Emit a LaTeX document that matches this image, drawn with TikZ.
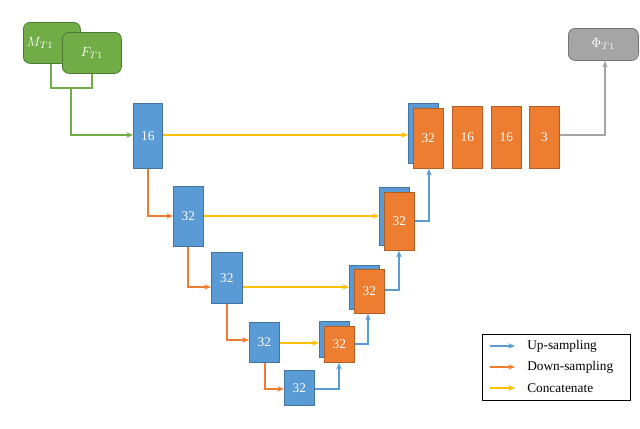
\documentclass[tikz,border=0pt]{standalone}
\usepackage{fontspec}
\setmainfont{Liberation Serif}
\usetikzlibrary{arrows.meta}
\definecolor{cb}{HTML}{5B9BD5}\definecolor{co}{HTML}{ED7D31}
\definecolor{cy}{HTML}{FFC000}\definecolor{cg}{HTML}{70AD47}\definecolor{cgr}{HTML}{A5A5A5}
\begin{document}
\begin{tikzpicture}[x=0.75pt,y=-0.75pt,
 blk/.style={draw=#1!75!black,fill=#1,text=white,font=\fontsize{10}{10}\selectfont,inner sep=0,line width=0.6pt},
 rbox/.style={draw=#1!70!black,fill=#1,text=white,rounded corners=5pt,inner sep=0,line width=0.6pt},
 ar/.style={draw=#1,line width=0.8pt,-{Stealth[length=5pt,width=4pt]}},
 ln/.style={draw=#1,line width=0.8pt}]
\useasboundingbox (0,0) rectangle (640,429);
% inputs
\node[rbox=cg,minimum width=57*0.75pt,minimum height=41*0.75pt,anchor=north west] (M) at (23,22) {};
\node at (40,43) {\textcolor{white}{$M_{T1}$}};
\node[rbox=cg,minimum width=59*0.75pt,minimum height=41*0.75pt,anchor=north west] (F) at (62,32) {$F_{T1}$};
\node[rbox=cgr,minimum width=70*0.75pt,minimum height=32*0.75pt,anchor=north west] (P) at (568,28) {$\Phi_{T1}$};
% encoder
\newcommand{\bx}[6]{\node[blk=#2,minimum width=#5*0.75pt,minimum height=#6*0.75pt,anchor=north west] (#1) at (#3,#4) {};}
\bx{e1}{cb}{133}{103}{29}{65}\node[white] at (e1) {16};
\bx{e2}{cb}{173}{186}{30}{60}\node[white] at (e2) {32};
\bx{e3}{cb}{211}{252}{31}{51}\node[white] at (e3) {32};
\bx{e4}{cb}{249}{322}{30}{40}\node[white] at (e4) {32};
\bx{e5}{cb}{284}{370}{30}{35}\node[white] at (e5) {32};
% decoder stacks
\bx{b4}{cb}{319}{321}{30}{36}\bx{d4}{co}{324}{326}{30}{36}\node[white] at (d4) {32};
\bx{b3}{cb}{349}{265}{30}{44}\bx{d3}{co}{354}{269}{30}{44}\node[white] at (d3) {32};
\bx{b2}{cb}{379}{187}{30}{58}\bx{d2}{co}{384}{192}{30}{58}\node[white] at (d2) {32};
\bx{b1}{cb}{408}{103}{30}{60}\bx{d1}{co}{413}{108}{30}{60}\node[white] at (d1) {32};
\bx{o1}{co}{452}{106}{30}{62}\node[white] at (o1) {16};
\bx{o2}{co}{491}{106}{30}{62}\node[white] at (o2) {16};
\bx{o3}{co}{529}{106}{30}{62}\node[white] at (o3) {3};
% green
\draw[ln=cg] (M.south -| 51,0) -- (51,88) -- (92,88) -- (F.south -| 92,0);
\draw[ar=cg] (71,88) -- (71,135) -- (e1.west |- 0,135);
% down
\draw[ar=co] (e1.south -| 148,0) -- (148,216) -- (e2.west |- 0,216);
\draw[ar=co] (e2.south -| 188,0) -- (188,287) -- (e3.west |- 0,287);
\draw[ar=co] (e3.south -| 227,0) -- (227,340) -- (e4.west |- 0,340);
\draw[ar=co] (e4.south -| 265,0) -- (265,389) -- (e5.west |- 0,389);
% concat
\draw[ar=cy] (e1.east |- 0,135) -- (b1.west |- 0,135);
\draw[ar=cy] (e2.east |- 0,216) -- (b2.west |- 0,216);
\draw[ar=cy] (e3.east |- 0,287) -- (b3.west |- 0,287);
\draw[ar=cy] (e4.east |- 0,343) -- (b4.west |- 0,343);
% up
\draw[ar=cb] (e5.east |- 0,389) -- (339,389) -- (d4.south -| 339,0);
\draw[ar=cb] (d4.east |- 0,344) -- (368,344) -- (d3.south -| 368,0);
\draw[ar=cb] (d3.east |- 0,290) -- (399,290) -- (d2.south -| 399,0);
\draw[ar=cb] (d2.east |- 0,221) -- (429,221) -- (d1.south -| 429,0);
% output
\draw[ar=cgr] (o3.east |- 0,135) -- (605,135) -- (P.south -| 605,0);
% legend
\node[draw,line width=0.6pt,minimum width=148*0.75pt,minimum height=66*0.75pt,anchor=north west,inner sep=0] (L) at (482,334) {};
\coordinate (l1) at (490,346);\coordinate (l1e) at (515,346);
\coordinate (l2) at (490,367);\coordinate (l2e) at (515,367);
\coordinate (l3) at (490,388);\coordinate (l3e) at (515,388);
\draw[ar=cb] (l1) -- (l1e);\draw[ar=co] (l2) -- (l2e);\draw[ar=cy] (l3) -- (l3e);
\node[anchor=west,inner sep=0] (t1) at (527,346) {Up-sampling};
\node[anchor=west,inner sep=0] (t2) at (527,367) {Down-sampling};
\node[anchor=west,inner sep=0] (t3) at (527,388) {Concatenate};
\end{tikzpicture}
\end{document}
